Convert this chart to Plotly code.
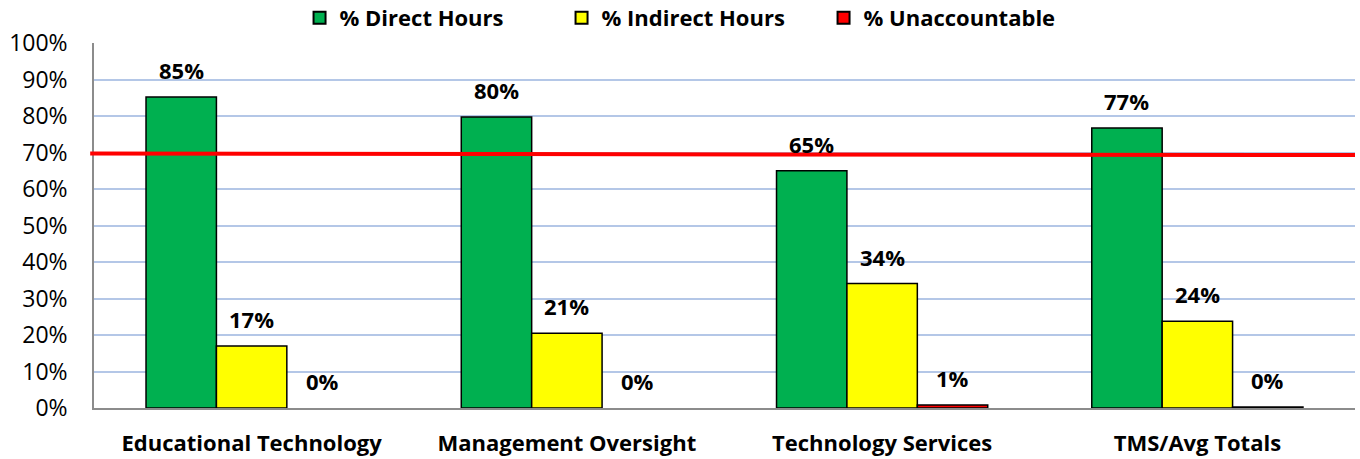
import plotly.graph_objects as go

categories = ["Educational Technology", "Management Oversight", "Technology Services", "TMS/Avg Totals"]
direct = [0.852, 0.797, 0.650, 0.767]
indirect = [0.170, 0.205, 0.341, 0.238]
unaccountable = [0.0, 0.0, 0.008, 0.003]
direct_lbl = ["85%", "80%", "65%", "77%"]
indirect_lbl = ["17%", "21%", "34%", "24%"]
unacc_lbl = ["0%", "0%", "1%", "0%"]
target_line = [0.697, 0.693]
yticks = [0, 0.1, 0.2, 0.3, 0.4, 0.5, 0.6, 0.7, 0.8, 0.9, 1.0]
ytick_text = ["0%", "10%", "20%", "30%", "40%", "50%", "60%", "70%", "80%", "90%", "100%"]

FONT = "Open Sans"
series = [
    ("% Direct Hours", direct, direct_lbl, "#00B050"),
    ("% Indirect Hours", indirect, indirect_lbl, "#FFFF00"),
    ("% Unaccountable", unaccountable, unacc_lbl, "#FF0000"),
]

fig = go.Figure()
for name, vals, lbls, col in series:
    widths = [1.5 if v > 0 else 0 for v in vals]
    fig.add_trace(go.Bar(
        name=name, x=categories, y=vals,
        marker=dict(color=col, line=dict(color="#000000", width=widths)),
        text=lbls, textposition="none", offsetgroup=name,
    ))

# labels as annotations above bars
n = len(series)
width_frac = 0.67 / n
for si, (name, vals, lbls, col) in enumerate(series):
    for ci, (v, l) in enumerate(zip(vals, lbls)):
        xpos = ci - 0.335 + width_frac * (si + 0.5)
        fig.add_annotation(x=xpos, y=v, xref="x", yref="y", text="<b>%s</b>" % l,
                           showarrow=False, yanchor="middle", yshift=27,
                           font=dict(family=FONT, size=22, color="#000000"))

fig.add_shape(type="line", xref="paper", yref="y", x0=-0.003, x1=1.0,
              y0=target_line[0], y1=target_line[1],
              line=dict(color="#FF0000", width=4), layer="above")

fig.update_layout(
    width=1360, height=459,
    margin=dict(l=94, r=5, t=43, b=51, autoexpand=False),
    paper_bgcolor="white", plot_bgcolor="white",
    barmode="group", bargap=0.33, bargroupgap=0,
    font=dict(family=FONT, size=20, color="#000000"),
    showlegend=True,
    legend=dict(orientation="h", x=0.163, xanchor="left",
                y=1 - 18 / 459, yanchor="middle", yref="container",
                font=dict(family=FONT, size=22, color="#000000", weight="bold"),
                entrywidth=217, entrywidthmode="pixels", itemsizing="constant",
                bgcolor="rgba(0,0,0,0)"),
    xaxis=dict(type="category", tickfont=dict(family=FONT, size=22, color="#000000", weight="bold"),
               showline=True, linecolor="#8C8C8C", linewidth=1.5, ticks="", showgrid=False,
               range=[-0.5, 3.5], ticklabelstandoff=15),
    yaxis=dict(range=[0, 1.0], tickvals=yticks, ticktext=ytick_text,
               tickfont=dict(family=FONT, size=23, color="#000000"),
               showgrid=True, gridcolor="#B4C7E7", gridwidth=1.5,
               showline=True, linecolor="#8C8C8C", linewidth=1.5, ticks="",
               zeroline=False, ticklabelstandoff=20),
)
fig.write_html("out.html", config={"displayModeBar": False},
               post_script="document.body.style.margin='0';document.body.style.overflow='hidden';")
